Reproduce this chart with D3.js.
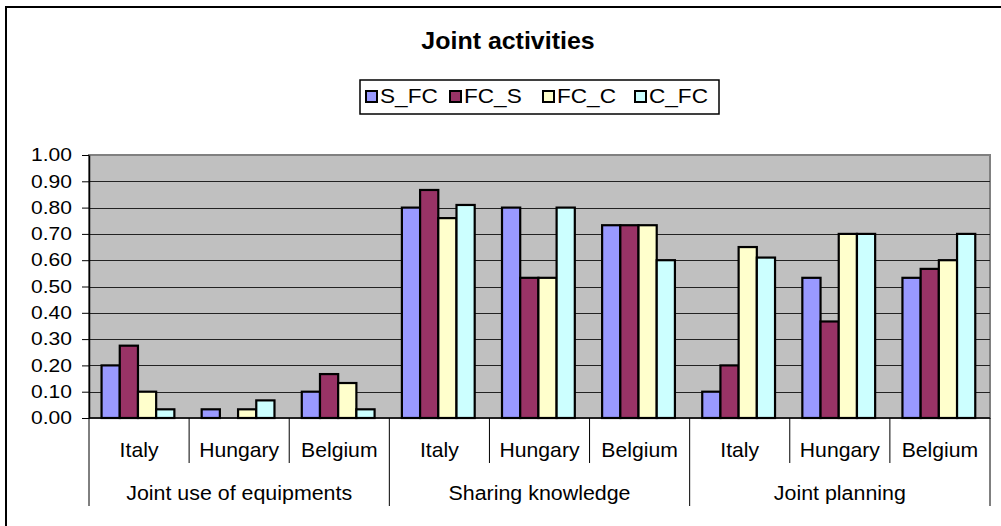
<!DOCTYPE html>
<html>
<head>
<meta charset="utf-8">
<script src="https://cdn.jsdelivr.net/npm/d3@7"></script>
<style>
  html, body { margin: 0; padding: 0; background: #ffffff; }
  svg { display: block; font-family: "Liberation Sans", Arial, sans-serif; }
</style>
</head>
<body>
<svg id="chart" width="1001" height="526"></svg>
<script>
// Activity groups and the countries within each group
const groups = ["Joint use of equipments", "Sharing knowledge", "Joint planning"];
const countries = ["Italy", "Hungary", "Belgium"];
const seriesNames = ["S_FC", "FC_S", "FC_C", "C_FC"];

// One value per (group, country), in group order
const sFC = [0.200, 0.033, 0.100, 0.800, 0.800, 0.733, 0.100, 0.533, 0.533];
const fcS = [0.275, 0.000, 0.167, 0.867, 0.533, 0.733, 0.200, 0.367, 0.567];
const fcC = [0.100, 0.033, 0.133, 0.760, 0.533, 0.733, 0.650, 0.700, 0.600];
const cFC = [0.033, 0.067, 0.033, 0.810, 0.800, 0.600, 0.610, 0.700, 0.700];

const yTicks = [0, 0.1, 0.2, 0.3, 0.4, 0.5, 0.6, 0.7, 0.8, 0.9, 1.0];
const colors = ["#9999ff", "#993366", "#ffffcc", "#ccffff"];

const seriesValues = [sFC, fcS, fcC, cFC];
const cells = [];
groups.forEach((g, gi) => countries.forEach((c, ci) => cells.push({ key: gi + "|" + c, group: g, country: c, idx: gi * 3 + ci })));

const svg = d3.select("#chart");
const plot = { left: 89, right: 990, top: 155, bottom: 418 };

// Text drawn with a slight horizontal widening, anchored at (x, y)
function label(parent, x, y, txt, size, sx, anchor, weight) {
  return parent.append("text")
    .attr("transform", `translate(${x},${y}) scale(${sx},1)`)
    .attr("text-anchor", anchor)
    .attr("font-size", size)
    .attr("font-weight", weight || "normal")
    .attr("fill", "#000")
    .text(txt);
}

// Outer chart frame
svg.append("rect")
  .attr("x", 6).attr("y", 7).attr("width", 1020).attr("height", 560)
  .attr("fill", "#fff").attr("stroke", "#000").attr("stroke-width", 2);

const x = d3.scaleBand().domain(cells.map(d => d.key)).range([plot.left, plot.right]).paddingInner(0).paddingOuter(0);
const xs = d3.scaleBand().domain(seriesNames).range([0, x.bandwidth()]).paddingInner(0).paddingOuter(0.75).align(0.46);
const y = d3.scaleLinear().domain([0, 1]).range([plot.bottom, plot.top]);
const color = d3.scaleOrdinal().domain(seriesNames).range(colors);

// Plot background
svg.append("rect")
  .attr("x", plot.left).attr("y", plot.top)
  .attr("width", plot.right - plot.left).attr("height", plot.bottom - plot.top)
  .attr("fill", "#c0c0c0").attr("stroke", "#808080").attr("stroke-width", 2);

// Gridlines
svg.append("g").selectAll("line").data(yTicks.slice(1, -1)).join("line")
  .attr("x1", plot.left).attr("x2", plot.right)
  .attr("y1", d => Math.round(y(d)) + 0.5).attr("y2", d => Math.round(y(d)) + 0.5)
  .attr("stroke", "#222").attr("stroke-width", 1);

// Bars
const barData = [];
cells.forEach(c => seriesNames.forEach((s, si) => {
  const v = seriesValues[si][c.idx];
  if (v > 0) barData.push({ cell: c.key, series: s, value: v });
}));
svg.append("g").selectAll("rect").data(barData).join("rect")
  .attr("x", d => x(d.cell) + xs(d.series))
  .attr("y", d => y(d.value))
  .attr("width", xs.bandwidth())
  .attr("height", d => y(0) - y(d.value))
  .attr("fill", d => color(d.series))
  .attr("stroke", "#000").attr("stroke-width", 2.2);

// Y axis
const yAxis = svg.append("g").attr("transform", `translate(${plot.left},0)`)
  .call(d3.axisLeft(y).tickValues(yTicks).tickFormat(d3.format(".2f")).tickSize(7).tickSizeOuter(0).tickPadding(10));
yAxis.select(".domain").attr("stroke", "#000").attr("stroke-width", 1.5);
yAxis.selectAll(".tick line").attr("stroke", "#000");
yAxis.selectAll(".tick text")
  .attr("font-size", 18).attr("fill", "#000")
  .attr("font-family", "Liberation Sans, Arial, sans-serif")
  .attr("transform", "translate(-17,0) scale(1.17,1)")
  .attr("x", 0);

// X axis baseline
svg.append("line").attr("x1", plot.left).attr("x2", plot.right)
  .attr("y1", plot.bottom).attr("y2", plot.bottom).attr("stroke", "#000").attr("stroke-width", 1.5);

// Country dividers and labels
const xAxis = svg.append("g");
cells.forEach((c, i) => {
  const x0 = x(c.key);
  if (i % 3 !== 0) {
    xAxis.append("line").attr("x1", x0).attr("x2", x0).attr("y1", plot.bottom).attr("y2", 463)
      .attr("stroke", "#000").attr("stroke-width", 1);
  }
  label(xAxis, x0 + x.bandwidth() / 2, 457, c.country, 20, 1.06, "middle");
});

// Group dividers and labels
groups.forEach((g, gi) => {
  const first = x(cells[gi * 3].key);
  const last = x(cells[gi * 3 + 2].key) + x.bandwidth();
  xAxis.append("line").attr("x1", first).attr("x2", first).attr("y1", plot.bottom).attr("y2", 506)
    .attr("stroke", "#000").attr("stroke-width", 1);
  if (gi === groups.length - 1) {
    xAxis.append("line").attr("x1", last).attr("x2", last).attr("y1", plot.bottom).attr("y2", 506)
      .attr("stroke", "#000").attr("stroke-width", 1);
  }
  label(xAxis, (first + last) / 2, 500, g, 20, 1.07, "middle");
});

// Title
label(svg, 508, 49, "Joint activities", 24, 1.04, "middle", "bold");

// Legend
const legend = svg.append("g");
legend.append("rect").attr("x", 360).attr("y", 80).attr("width", 359).attr("height", 34)
  .attr("fill", "#fff").attr("stroke", "#000").attr("stroke-width", 1.5);
const legendX = [366, 450, 543, 635];
seriesNames.forEach((s, i) => {
  const item = legend.append("g").attr("transform", `translate(${legendX[i]},91)`);
  item.append("rect").attr("width", 11).attr("height", 11)
    .attr("fill", color(s)).attr("stroke", "#000").attr("stroke-width", 2);
  label(item, 14, 12, s, 20, 1.13, "start");
});
</script>
</body>
</html>
